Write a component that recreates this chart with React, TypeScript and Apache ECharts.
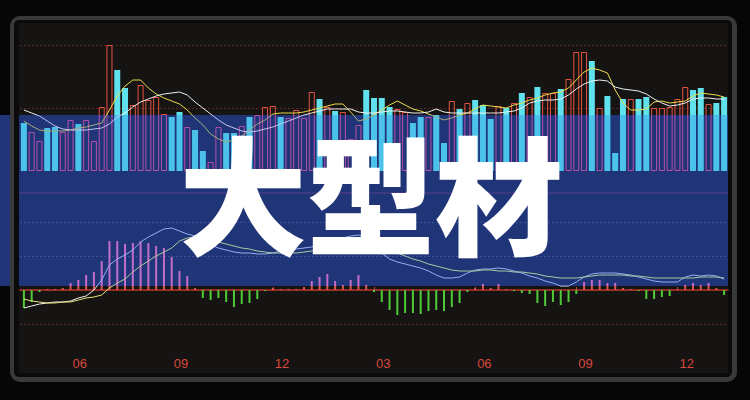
import React, { useEffect, useRef } from 'react';
import * as echarts from 'echarts';

// weekly volume (hollow red = up week, filled cyan = down week)
const volume = [
  48, 39, 30, 43, 44, 39, 51, 47, 51, 30,
  64, 126, 101, 83, 66, 86, 71, 74, 57, 54,
  59, 44, 41, 20, 9, 44, 38, 38, 45, 54,
  56, 64, 65, 54, 53, 61, 53, 79, 72, 64,
  60, 59, 32, 46, 81, 73, 73, 64, 62, 59,
  48, 54, 54, 56, 28, 70, 62, 68, 71, 66,
  52, 65, 63, 68, 78, 74, 84, 78, 78, 82,
  92, 119, 119, 110, 63, 75, 18, 72, 72, 72,
  74, 63, 63, 64, 72, 84, 81, 83, 67, 68, 74,
];
const volumeUp = [
  0, 1, 1, 0, 0, 1, 1, 0, 1, 1,
  1, 1, 0, 0, 1, 1, 1, 1, 1, 0,
  0, 1, 0, 0, 1, 1, 0, 0, 1, 0,
  1, 1, 1, 0, 1, 1, 1, 1, 0, 1,
  0, 1, 1, 1, 0, 0, 0, 0, 1, 1,
  0, 0, 1, 0, 0, 1, 0, 1, 0, 0,
  0, 1, 0, 1, 0, 1, 0, 1, 1, 0,
  1, 1, 1, 0, 1, 0, 0, 0, 1, 0,
  0, 1, 1, 1, 1, 1, 0, 0, 1, 0, 0,
];
const volMA5 = [
  50, 45, 41, 40, 40, 40, 41, 43, 44, 46,
  48, 61, 75, 85, 91, 91, 83, 77, 73, 70,
  67, 61, 53, 46, 37, 32, 29, 31, 35, 41,
  47, 51, 57, 58, 58, 58, 59, 61, 63, 65,
  67, 67, 59, 50, 52, 56, 61, 66, 70, 66,
  62, 60, 57, 54, 51, 53, 56, 58, 62, 66,
  65, 64, 63, 66, 68, 71, 73, 76, 78, 79,
  83, 91, 99, 103, 101, 98, 81, 68, 61, 61,
  62, 69, 70, 68, 69, 70, 75, 78, 77, 76, 74,
];
const volMA10 = [
  61, 58, 55, 50, 45, 42, 41, 41, 41, 42,
  43, 47, 54, 58, 64, 69, 72, 75, 77, 78,
  79, 76, 69, 63, 57, 51, 46, 43, 40, 39,
  40, 42, 44, 47, 50, 53, 56, 58, 60, 62,
  62, 62, 62, 59, 58, 58, 59, 60, 60, 59,
  58, 58, 59, 62, 59, 58, 58, 58, 58, 58,
  58, 58, 59, 60, 63, 68, 70, 71, 71, 72,
  76, 82, 87, 90, 91, 90, 84, 82, 81, 80,
  77, 72, 68, 65, 66, 68, 72, 73, 73, 72, 72,
];
// MACD (x 0.001)
const macdHist = [
  -18, -12, -2, 1, 1, 2, 7, 10, 15, 18,
  29, 49, 49, 46, 47, 49, 47, 44, 42, 33,
  19, 14, 2, -8, -10, -8, -12, -17, -14, -13,
  -9, -1, 2, 1, 1, 1, 3, 9, 13, 16,
  9, 5, 10, 15, 5, -2, -12, -20, -25, -23,
  -23, -24, -21, -20, -21, -17, -13, -2, 2, 6,
  2, 6, 1, -1, -3, -4, -13, -16, -12, -15,
  -12, -4, 8, 10, 10, 7, 7, 2, 1, -1,
  -9, -9, -7, -6, 1, 5, 7, 5, 7, 2, -5,
];
const dif = [
  -18, -16, -14, -13, -12, -12, -11, -8, -6, 0,
  10, 25, 31, 35, 40, 48, 53, 57, 61, 62,
  59, 56, 54, 49, 45, 42, 40, 38, 37, 37,
  36, 36, 37, 39, 40, 41, 42, 43, 46, 49,
  50, 52, 54, 55, 53, 45, 37, 31, 28, 26,
  24, 22, 19, 15, 12, 12, 13, 17, 20, 21,
  21, 22, 21, 19, 17, 14, 12, 9, 7, 4,
  4, 8, 13, 16, 17, 17, 17, 16, 15, 13,
  11, 9, 8, 8, 8, 13, 15, 14, 15, 14, 11,
];
const dea = [
  -9, -11, -12, -13, -13, -12, -12, -10, -8, -7,
  -5, 2, 7, 11, 18, 24, 29, 34, 38, 42,
  49, 52, 53, 53, 51, 48, 46, 44, 42, 41,
  39, 38, 37, 37, 37, 37, 38, 39, 41, 43,
  44, 45, 47, 48, 49, 49, 45, 41, 37, 34,
  31, 29, 26, 24, 22, 20, 19, 19, 19, 20,
  20, 19, 19, 18, 18, 17, 16, 14, 13, 12,
  12, 12, 13, 14, 15, 15, 15, 15, 14, 14,
  13, 12, 12, 12, 12, 12, 12, 13, 13, 13, 12,
];
const tickIndex = [6, 19, 32, 45, 58, 71, 84];
const tickLabels = ['06', '09', '12', '03', '06', '09', '12'];
const weeks = volume.map((_, i) => 'W' + (i + 1));
const title = '大型材';

const H = 400;
const BAND_TOP = 115;
const BAND_BOTTOM = 286;
const BAND = '#1f3577';

function vGrad(top: string, bottom: string, y: number) {
  const o = y / H;
  return new echarts.graphic.LinearGradient(0, 0, 0, H, [
    { offset: 0, color: top },
    { offset: o, color: top },
    { offset: o, color: bottom },
    { offset: 1, color: bottom },
  ], true);
}

export default function App() {
  const ref = useRef<HTMLDivElement>(null);
  useEffect(() => {
    if (!ref.current) return;
    const chart = echarts.init(ref.current, null, { renderer: 'svg' });
    const redStroke = vGrad('#e4533f', '#b64ea9', BAND_TOP);
    const cyanFill = vGrad('#60e2ee', '#4bc2ea', BAND_TOP);
    const histPos = vGrad('#c36cc8', '#d9574c', BAND_BOTTOM);
    const isTick = (i: number) => tickIndex.indexOf(i) >= 0;

    chart.setOption({
      animation: false,
      backgroundColor: '#060606',
      grid: [
        { left: 20, right: 22, top: 45, bottom: 229 },
        { left: 20, right: 22, top: 222, bottom: 42 },
      ],
      xAxis: [
        {
          type: 'category', gridIndex: 0, data: weeks, boundaryGap: true,
          axisLine: { show: false }, axisTick: { show: false }, axisLabel: { show: false },
        },
        {
          type: 'category', gridIndex: 1, data: weeks, boundaryGap: true, offset: -4,
          axisLine: { show: true, lineStyle: { color: '#b9352b', width: 1.5 } },
          axisTick: {
            show: true, inside: true, length: 3, alignWithLabel: true,
            interval: (i: number) => isTick(i), lineStyle: { color: '#c0473a' },
          },
          axisLabel: {
            interval: (i: number) => isTick(i),
            formatter: (_v: string, i: number) => tickLabels[tickIndex.indexOf(i)] ?? '',
            color: '#d8493b', fontSize: 13, fontFamily: 'Liberation Sans, Arial, sans-serif',
            align: 'left', padding: [0, 0, 0, 2], margin: 3,
          },
        },
      ],
      yAxis: [
        {
          type: 'value', gridIndex: 0, min: 0, max: 126, interval: 63,
          axisLine: { show: false }, axisTick: { show: false }, axisLabel: { show: false },
          splitLine: { show: true, showMinLine: false, lineStyle: { color: '#5e2620', type: [2, 2], width: 1 } },
        },
        {
          type: 'value', gridIndex: 1, min: -68, max: 68, interval: 34,
          axisLine: { show: false }, axisTick: { show: false }, axisLabel: { show: false },
          splitLine: {
            show: true, showMinLine: false,
            lineStyle: { color: vGrad('#3f4f9c', '#5e2924', BAND_BOTTOM), type: [2, 2], width: 1 },
          },
        },
      ],
      graphic: [
        { type: 'rect', z: -20, shape: { x: 0, y: BAND_TOP, width: 14, height: BAND_BOTTOM - BAND_TOP }, style: { fill: BAND } },
        { type: 'rect', z: -19, shape: { x: 10, y: 16, width: 727, height: 366, r: 10 }, style: { fill: '#393939' } },
        { type: 'rect', z: -18, shape: { x: 14, y: 20, width: 718, height: 357, r: 5 }, style: { fill: '#0b0b0b' } },
        { type: 'rect', z: -17, shape: { x: 19, y: 23, width: 709, height: 350 }, style: { fill: '#161313' } },
        { type: 'rect', z: -16, shape: { x: 19, y: BAND_TOP, width: 709, height: BAND_BOTTOM - BAND_TOP }, style: { fill: BAND } },
        { type: 'line', z: -15, shape: { x1: 19, y1: 193, x2: 728, y2: 193 }, style: { stroke: '#5a4188', lineWidth: 1 } },
        {
          type: 'text', z: 100, x: 371, y: 190,
          style: {
            text: title, fill: '#ffffff', fontSize: 128, fontWeight: 900,
            fontFamily: '"Noto Sans CJK SC", "Noto Sans CJK JP", sans-serif',
            align: 'center', verticalAlign: 'middle',
          },
        },
      ],
      series: [
        {
          type: 'bar', xAxisIndex: 0, yAxisIndex: 0, barWidth: 6,
          data: volume.map((v, i) => ({
            value: v,
            itemStyle: volumeUp[i]
              ? { color: 'rgba(0,0,0,0)', borderColor: redStroke, borderWidth: 1 }
              : { color: cyanFill, borderWidth: 0 },
          })),
        },
        {
          type: 'line', xAxisIndex: 0, yAxisIndex: 0, data: volMA5, symbol: 'none', smooth: false,
          lineStyle: { width: 1, color: vGrad('#ecdc4a', '#a9ab78', BAND_TOP) },
        },
        {
          type: 'line', xAxisIndex: 0, yAxisIndex: 0, data: volMA10, symbol: 'none',
          lineStyle: { width: 1, color: vGrad('#eeeeee', '#c4c2ec', BAND_TOP) },
        },
        {
          type: 'bar', xAxisIndex: 1, yAxisIndex: 1, barWidth: 2, data: macdHist,
          itemStyle: { color: (p: any) => (p.value >= 0 ? histPos : '#4fcb38') },
        },
        {
          type: 'line', xAxisIndex: 1, yAxisIndex: 1, data: dif, symbol: 'none',
          lineStyle: { width: 1, color: vGrad('#93aef2', '#f0f0f0', BAND_BOTTOM) },
        },
        {
          type: 'line', xAxisIndex: 1, yAxisIndex: 1, data: dea, symbol: 'none',
          lineStyle: { width: 1, color: vGrad('#aac8a2', '#e8e27a', BAND_BOTTOM) },
        },
      ],
    });
    return () => chart.dispose();
  }, []);
  return <div ref={ref} style={{ position: 'absolute', left: 0, top: 0, width: 750, height: 400 }} />;
}
